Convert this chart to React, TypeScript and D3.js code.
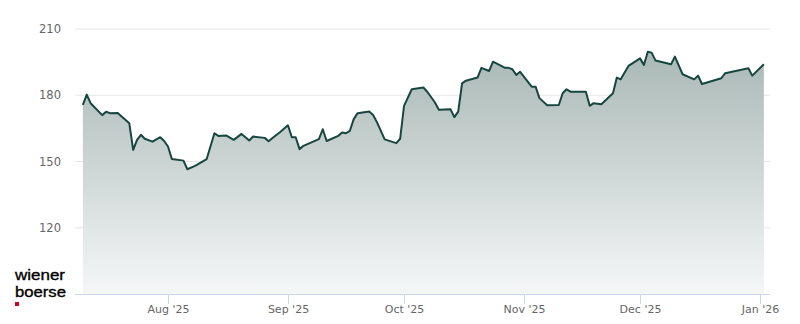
import React from "react";
import * as d3 from "d3";

const dates: string[] = [
  "2025-07-10","2025-07-11","2025-07-12","2025-07-15","2025-07-16","2025-07-17","2025-07-19","2025-07-22",
  "2025-07-23","2025-07-24","2025-07-25","2025-07-26","2025-07-28","2025-07-30","2025-07-31","2025-08-01",
  "2025-08-02","2025-08-05","2025-08-06","2025-08-08","2025-08-11","2025-08-13","2025-08-14","2025-08-16",
  "2025-08-18","2025-08-20","2025-08-22","2025-08-23","2025-08-26","2025-08-27","2025-08-28","2025-08-30",
  "2025-09-01","2025-09-02","2025-09-03","2025-09-04","2025-09-05","2025-09-09","2025-09-10","2025-09-11",
  "2025-09-14","2025-09-15","2025-09-16","2025-09-17","2025-09-18","2025-09-19","2025-09-22","2025-09-23",
  "2025-09-24","2025-09-26","2025-09-29","2025-09-30","2025-10-01","2025-10-03","2025-10-06","2025-10-07",
  "2025-10-09","2025-10-10","2025-10-13","2025-10-14","2025-10-15","2025-10-16","2025-10-17","2025-10-20",
  "2025-10-21","2025-10-23","2025-10-24","2025-10-27","2025-10-28","2025-10-29","2025-10-30","2025-10-31",
  "2025-11-03","2025-11-04","2025-11-05","2025-11-07","2025-11-10","2025-11-11","2025-11-12","2025-11-13",
  "2025-11-17","2025-11-18","2025-11-19","2025-11-21","2025-11-24","2025-11-25","2025-11-26","2025-11-28",
  "2025-12-01","2025-12-02","2025-12-03","2025-12-04","2025-12-05","2025-12-09","2025-12-10","2025-12-12",
  "2025-12-15","2025-12-16","2025-12-17","2025-12-22","2025-12-23","2025-12-29","2025-12-30","2026-01-02",
];

const prices: number[] = [
  175.6,180.3,176.4,171.0,172.5,171.9,172.0,167.3,
  155.3,159.8,162.1,160.3,159.0,161.0,159.3,156.8,
  151.1,150.4,146.5,148.0,151.1,162.8,161.6,161.8,
  159.8,162.5,159.5,161.3,160.7,159.2,160.6,163.4,
  166.4,161.0,161.0,155.6,157.1,160.1,164.6,159.3,
  161.6,163.1,162.8,163.9,169.2,171.9,172.6,171.1,
  167.8,160.0,158.3,160.3,175.2,182.7,183.5,181.6,
  176.7,173.4,173.7,170.1,172.6,185.4,186.6,188.0,
  192.4,191.0,195.2,192.5,192.4,191.8,189.2,190.6,
  183.9,183.9,178.7,175.5,175.6,180.9,182.7,181.6,
  181.6,175.2,176.4,175.9,180.9,188.0,187.2,193.3,
  196.7,193.7,199.7,199.3,195.7,194.0,197.5,189.5,
  187.2,188.9,185.1,187.7,190.0,192.2,188.9,194.0,
];

const yTicks: number[] = [120, 150, 180, 210];
const xTickDates: string[] = ["2025-08-01","2025-09-01","2025-10-01","2025-11-01","2025-12-01","2026-01-01"];
const xTickLabels: string[] = ["Aug '25","Sep '25","Oct '25","Nov '25","Dec '25","Jan '26"];

const parse = d3.utcParse("%Y-%m-%d");

export default function App() {
  const W = 800, H = 324;
  const x = d3.scaleUtc()
    .domain([parse("2025-08-01") as Date, parse("2026-01-01") as Date])
    .range([168, 760]);
  const y = d3.scaleLinear().domain([90, 210]).range([294, 29]);
  const data = dates.map((d, i) => ({ d: parse(d) as Date, v: prices[i] }));
  const line = d3.line<{ d: Date; v: number }>().x(p => x(p.d)).y(p => y(p.v));
  const area = d3.area<{ d: Date; v: number }>().x(p => x(p.d)).y0(y(90)).y1(p => y(p.v));
  const font = "'DejaVu Sans', sans-serif";
  const logoFont = "'Liberation Sans', Arial, sans-serif";
  return (
    <svg width={W} height={H} style={{ position: "absolute", left: 0, top: 0, background: "#fff" }}>
      <defs>
        <linearGradient id="fillg" x1="0" y1="0" x2="0" y2="1">
          <stop offset="0" stopColor="#a9b8b6" />
          <stop offset="1" stopColor="#f5f7f7" />
        </linearGradient>
      </defs>
      {yTicks.map(t => (
        <g key={t}>
          <line x1={75} x2={770} y1={y(t)} y2={y(t)} stroke="#e6e6e6" strokeWidth={1} />
          <text x={61} y={y(t) + 4} textAnchor="end" fontSize={11.5} fill="#666" fontFamily={font}>{t}</text>
        </g>
      ))}
      <path d={area(data) || ""} fill="url(#fillg)" />
      <path d={line(data) || ""} fill="none" stroke="#17463f" strokeWidth={2} strokeLinejoin="round" />
      <line x1={75} x2={770} y1={y(90) + 0.5} y2={y(90) + 0.5} stroke="#ccd6eb" strokeWidth={1} />
      {xTickDates.map((d, i) => {
        const px = Math.round(x(parse(d) as Date)) + 0.5;
        return (
          <g key={d}>
            <line x1={px} x2={px} y1={y(90)} y2={y(90) + 10} stroke="#ccd6eb" strokeWidth={1} />
            <text x={px} y={313} textAnchor="middle" fontSize={11} fill="#666" fontFamily={font}>{xTickLabels[i]}</text>
          </g>
        );
      })}
      <text x={15} y={280} fontSize={15.5} textLength={50} lengthAdjust="spacingAndGlyphs" fill="#000" stroke="#000" strokeWidth={0.35} fontFamily={logoFont}>wiener</text>
      <text x={15} y={297} fontSize={15.5} textLength={51} lengthAdjust="spacingAndGlyphs" fill="#000" stroke="#000" strokeWidth={0.35} fontFamily={logoFont}>boerse</text>
      <rect x={15} y={302} width={4} height={4} fill="#d0021b" />
    </svg>
  );
}
